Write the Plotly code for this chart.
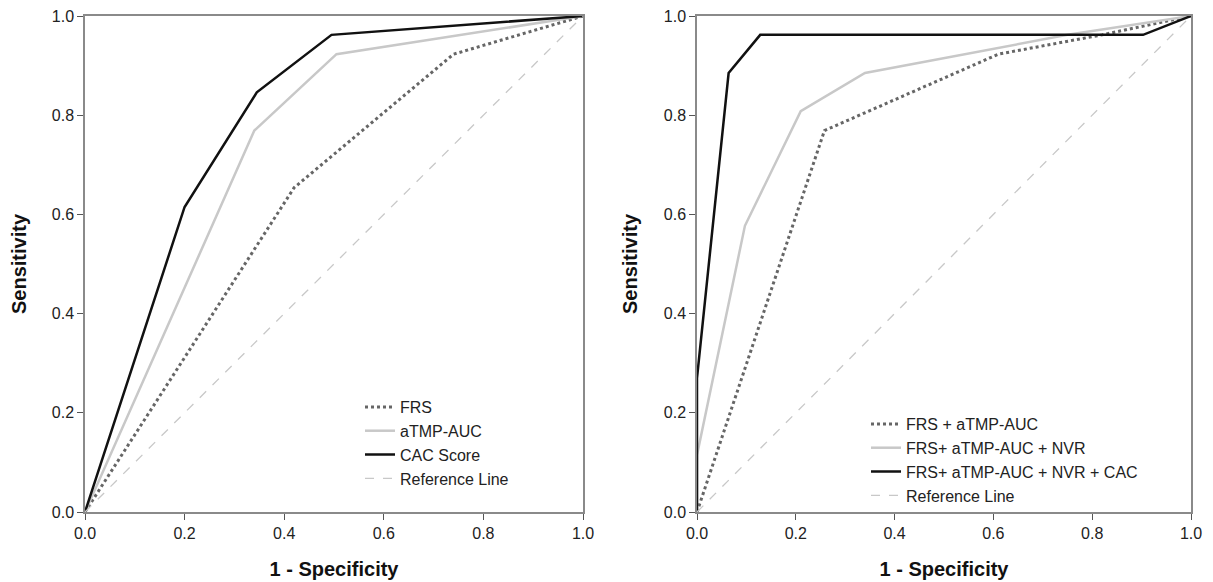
import plotly.graph_objects as go

# Left panel
frs_x = [0.0, 0.42, 0.74, 1.0]
frs_y = [0.0, 0.654, 0.923, 1.0]
atmp_x = [0.0, 0.34, 0.505, 1.0]
atmp_y = [0.0, 0.769, 0.923, 1.0]
cac_x = [0.0, 0.20, 0.345, 0.495, 1.0]
cac_y = [0.0, 0.615, 0.846, 0.962, 1.0]

# Right panel
c1_x = [0.0, 0.258, 0.61, 0.82, 1.0]
c1_y = [0.0, 0.769, 0.923, 0.962, 1.0]
c2_x = [0.0, 0.0, 0.097, 0.21, 0.34, 0.61, 0.75, 1.0]
c2_y = [0.0, 0.115, 0.577, 0.808, 0.885, 0.935, 0.962, 1.0]
c3_x = [0.0, 0.0, 0.064, 0.128, 0.903, 1.0]
c3_y = [0.0, 0.27, 0.885, 0.962, 0.962, 1.0]

ref_x = [0.0, 1.0]
ref_y = [0.0, 1.0]

tick_vals = [0.0, 0.2, 0.4, 0.6, 0.8, 1.0]
tick_text = ["0.0", "0.2", "0.4", "0.6", "0.8", "1.0"]

DOT = dict(color="#666666", width=3, dash="dot")
LIGHT = dict(color="#c8c8c8", width=2.5)
BLACK = dict(color="#111111", width=2.5)
REF = dict(color="#c8c8c8", width=1.3, dash="dash")

fig = go.Figure()
fig.add_trace(go.Scatter(x=frs_x, y=frs_y, mode="lines", name="FRS", line=DOT, xaxis="x", yaxis="y", legend="legend"))
fig.add_trace(go.Scatter(x=atmp_x, y=atmp_y, mode="lines", name="aTMP-AUC", line=LIGHT, xaxis="x", yaxis="y", legend="legend"))
fig.add_trace(go.Scatter(x=cac_x, y=cac_y, mode="lines", name="CAC Score", line=BLACK, xaxis="x", yaxis="y", legend="legend"))
fig.add_trace(go.Scatter(x=ref_x, y=ref_y, mode="lines", name="Reference Line", line=REF, xaxis="x", yaxis="y", legend="legend"))

fig.add_trace(go.Scatter(x=c1_x, y=c1_y, mode="lines", name="FRS + aTMP-AUC", line=DOT, xaxis="x2", yaxis="y2", legend="legend2"))
fig.add_trace(go.Scatter(x=c2_x, y=c2_y, mode="lines", name="FRS+ aTMP-AUC + NVR", line=LIGHT, xaxis="x2", yaxis="y2", legend="legend2"))
fig.add_trace(go.Scatter(x=c3_x, y=c3_y, mode="lines", name="FRS+ aTMP-AUC + NVR + CAC", line=BLACK, xaxis="x2", yaxis="y2", legend="legend2"))
fig.add_trace(go.Scatter(x=ref_x, y=ref_y, mode="lines", name="Reference Line", line=REF, xaxis="x2", yaxis="y2", legend="legend2"))

W, H = 1213, 582
OFF = 8  # page body offset
ydom = [1 - (512 - OFF) / H, 1 - (16 - OFF) / H]

axis_common = dict(
    range=[0, 1], tickvals=tick_vals, ticktext=tick_text,
    showline=True, mirror=True, linecolor="#8a8a8a", linewidth=1.5,
    ticks="outside", ticklen=6, tickcolor="#555555", tickwidth=1.2,
    showgrid=False, zeroline=False, automargin=False,
    ticklabeloverflow="allow",
    tickfont=dict(family="Liberation Sans", size=16, color="#222222"),
)
xtitle = dict(text="<b>1 - Specificity</b>", font=dict(family="Liberation Sans", size=20, color="#111111"), standoff=21)
ytitle = dict(text="<b>Sensitivity</b>", font=dict(family="Liberation Sans", size=20, color="#111111"), standoff=21)

fig.update_layout(
    width=W, height=H,
    margin=dict(l=0, r=0, t=0, b=0),
    paper_bgcolor="white", plot_bgcolor="white",
    xaxis=dict(domain=[(85 - OFF) / W, (583 - OFF) / W], anchor="y", title=xtitle, **axis_common),
    yaxis=dict(domain=ydom, anchor="x", title=ytitle, **axis_common),
    xaxis2=dict(domain=[(697 - OFF) / W, (1191 - OFF) / W], anchor="y2", title=xtitle, **axis_common),
    yaxis2=dict(domain=ydom, anchor="x2", title=ytitle, **axis_common),
    legend=dict(x=(360 - OFF) / W, y=1 - 382 / H, xanchor="left", yanchor="top",
                bgcolor="rgba(0,0,0,0)", font=dict(family="Liberation Sans", size=16, color="#222222"),
                itemwidth=30, tracegroupgap=0),
    legend2=dict(x=(866 - OFF) / W, y=1 - 399 / H, xanchor="left", yanchor="top",
                 bgcolor="rgba(0,0,0,0)", font=dict(family="Liberation Sans", size=16, color="#222222"),
                 itemwidth=30, tracegroupgap=0),
    showlegend=True,
)

fig.write_html("out.html")
